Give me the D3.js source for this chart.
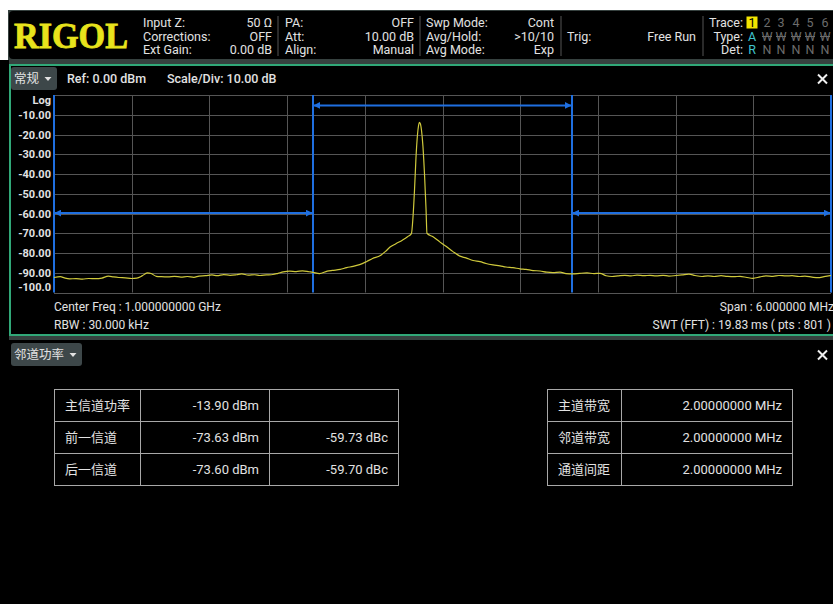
<!DOCTYPE html>
<html>
<head>
<meta charset="utf-8">
<script src="https://cdn.jsdelivr.net/npm/d3@7/dist/d3.min.js"></script>
<style>
    html, body { margin: 0; padding: 0; background: #fff; }
    svg { display: block; font-family: Roboto, 'Noto Sans CJK SC', sans-serif; }
</style>
</head>
<body>
<svg id="screen" width="833" height="604"></svg>
<script>
// trace: offset from center freq (MHz) and level (dBm)
var traceFreq = [
    -3.00, -2.95, -2.92, -2.88, -2.83, -2.78, -2.73, -2.68, -2.63, -2.58,
    -2.54, -2.50, -2.45, -2.40, -2.36, -2.32, -2.28, -2.25, -2.21, -2.17,
    -2.12, -2.07, -2.02, -1.97, -1.92, -1.88, -1.83, -1.78, -1.74, -1.69,
    -1.64, -1.59, -1.55, -1.50, -1.45, -1.41, -1.36, -1.31, -1.27, -1.23,
    -1.18, -1.13, -1.08, -1.03, -1.00, -0.95, -0.89, -0.85, -0.79, -0.74,
    -0.69, -0.64, -0.585, -0.54, -0.48, -0.44, -0.405, -0.36, -0.31, -0.27,
    -0.24, -0.228, -0.216, -0.205, -0.193, -0.185, -0.179, -0.171, -0.162, -0.151,
    -0.139, -0.127, -0.12, -0.073, -0.019, 0.027, 0.081, 0.135, 0.181, 0.236,
    0.29, 0.336, 0.39, 0.444, 0.49, 0.544, 0.598, 0.645, 0.699, 0.753,
    0.805, 0.853, 0.907, 0.954, 1.008, 1.06, 1.116, 1.17, 1.216, 1.263,
    1.309, 1.355, 1.409, 1.456, 1.502, 1.556, 1.602, 1.649, 1.703, 1.749,
    1.803, 1.849, 1.903, 1.95, 2.004, 2.05, 2.097, 2.151, 2.197, 2.251,
    2.297, 2.351, 2.398, 2.452, 2.498, 2.552, 2.598, 2.653, 2.699, 2.753,
    2.799, 2.853, 2.90, 2.946, 3.00
];
var traceLevel = [
    -92.4, -92.0, -92.6, -93.1, -93.0, -93.2, -92.9, -93.0, -92.7, -91.7,
    -92.1, -92.4, -92.6, -92.9, -92.7, -91.6, -90.1, -90.4, -91.8, -92.0,
    -92.1, -91.8, -92.2, -91.9, -92.3, -91.7, -91.5, -91.1, -91.5, -90.9,
    -91.3, -91.0, -90.6, -91.2, -91.0, -91.4, -91.1, -90.9, -90.3, -89.6,
    -89.2, -89.4, -89.0, -89.5, -89.8, -90.4, -89.2, -88.8, -88.3, -87.4,
    -86.8, -85.9, -84.3, -82.8, -81.3, -79.2, -77.0, -75.3, -73.5, -71.8,
    -70.2, -62.0, -48.0, -32.0, -20.0, -15.5, -13.9, -14.6, -18.0, -26.0,
    -40.0, -58.0, -70.0, -71.8, -74.5, -76.6, -79.3, -81.6, -82.5, -83.8,
    -84.4, -85.3, -86.0, -86.5, -87.1, -87.4, -88.0, -88.3, -88.9, -89.1,
    -89.7, -89.9, -89.7, -90.4, -90.6, -90.3, -90.1, -90.4, -90.3, -91.5,
    -91.9, -91.6, -91.3, -91.6, -91.2, -91.5, -91.3, -91.6, -91.3, -91.7,
    -91.4, -91.1, -90.7, -91.4, -91.9, -91.6, -91.9, -91.5, -91.8, -92.0,
    -91.8, -92.4, -92.8, -92.1, -91.6, -91.8, -91.4, -91.6, -91.5, -91.9,
    -91.7, -92.2, -92.5, -92.0, -91.4
];

// channel markers (MHz offsets, dB level of the bracket line)
var channelStart = [ -3, -1, 1 ];
var channelEnd = [ -1, 1, 3 ];
var channelLevel = [ -59.8, -5.3, -59.8 ];

var yTickValues = [ 0, -10, -20, -30, -40, -50, -60, -70, -80, -90, -100 ];
var yTickLabels = [ 'Log', '-10.00', '-20.00', '-30.00', '-40.00', '-50.00',
    '-60.00', '-70.00', '-80.00', '-90.00', '-100.0' ];
var xDivisions = [ -3, -2.4, -1.8, -1.2, -0.6, 0, 0.6, 1.2, 1.8, 2.4, 3 ];

// header info blocks
var infoLabelsA = [ 'Input Z:', 'Corrections:', 'Ext Gain:' ];
var infoValuesA = [ '50 Ω', 'OFF', '0.00 dB' ];
var infoLabelsB = [ 'PA:', 'Att:', 'Align:' ];
var infoValuesB = [ 'OFF', '10.00 dB', 'Manual' ];
var infoLabelsC = [ 'Swp Mode:', 'Avg/Hold:', 'Avg Mode:' ];
var infoValuesC = [ 'Cont', '>10/10', 'Exp' ];
var traceNumbers = [ '1', '2', '3', '4', '5', '6' ];
var traceTypes = [ 'A', 'W', 'W', 'W', 'W', 'W' ];
var traceDets = [ 'R', 'N', 'N', 'N', 'N', 'N' ];

// ACP result tables
var acpLabels = [ '主信道功率', '前一信道', '后一信道' ];
var acpPower = [ '-13.90 dBm', '-73.63 dBm', '-73.60 dBm' ];
var acpRelative = [ '', '-59.73 dBc', '-59.70 dBc' ];
var bwLabels = [ '主道带宽', '邻道带宽', '通道间距' ];
var bwValues = [ '2.00000000 MHz', '2.00000000 MHz', '2.00000000 MHz' ];

var svg = d3.select( '#screen' );
var textColor = '#e2e2e2';
var blue = '#1f6fe0';

drawFrame();
drawHeader();
drawPlot();
drawTables();

function drawFrame() {
    svg.append( 'rect' ).attr( 'x', 8 ).attr( 'y', 10 ).attr( 'width', 825 ).attr( 'height', 594 )
        .style( 'fill', '#36413f' );
    svg.append( 'rect' ).attr( 'x', 0 ).attr( 'y', 60 ).attr( 'width', 9 ).attr( 'height', 544 )
        .style( 'fill', '#000' );
    svg.append( 'rect' ).attr( 'x', 9 ).attr( 'y', 11 ).attr( 'width', 830 ).attr( 'height', 48 )
        .attr( 'rx', 4 ).style( 'fill', '#000' );
    // plot panel
    svg.append( 'rect' ).attr( 'x', 10 ).attr( 'y', 65 ).attr( 'width', 830 ).attr( 'height', 270 )
        .style( 'fill', '#000' ).style( 'stroke', '#31a878' ).style( 'stroke-width', 2 );
    // lower panel
    svg.append( 'rect' ).attr( 'x', 9 ).attr( 'y', 340 ).attr( 'width', 824 ).attr( 'height', 264 )
        .style( 'fill', '#000' );
}

function infoBlock( labels, values, xLabel, xValue ) {
    var g = svg.append( 'g' ).style( 'font-size', '12.5px' ).style( 'fill', textColor );
    g.selectAll( 'text.l' ).data( labels ).enter().append( 'text' )
        .attr( 'x', xLabel ).attr( 'y', function( d, i ) { return 27 + i * 13.5; } )
        .text( function( d ) { return d; } );
    g.selectAll( 'text.v' ).data( values ).enter().append( 'text' )
        .attr( 'x', xValue ).attr( 'y', function( d, i ) { return 27 + i * 13.5; } )
        .attr( 'text-anchor', 'end' )
        .text( function( d ) { return d; } );
}

function separator( x ) {
    svg.append( 'line' ).attr( 'x1', x ).attr( 'x2', x ).attr( 'y1', 16 ).attr( 'y2', 56 )
        .style( 'stroke', '#555' ).style( 'stroke-width', 1 );
}

function drawHeader() {
    svg.append( 'text' ).attr( 'x', 14 ).attr( 'y', 48 )
        .attr( 'textLength', 114 ).attr( 'lengthAdjust', 'spacingAndGlyphs' )
        .style( 'font-family', "'Liberation Serif', serif" ).style( 'font-weight', 'bold' )
        .style( 'font-size', '35px' ).style( 'fill', '#e8e31c' )
        .style( 'stroke', '#e8e31c' ).style( 'stroke-width', 0.8 )
        .text( 'RIGOL' );

    infoBlock( infoLabelsA, infoValuesA, 143, 272 );
    separator( 278 );
    infoBlock( infoLabelsB, infoValuesB, 285, 414 );
    separator( 420 );
    infoBlock( infoLabelsC, infoValuesC, 426, 554 );
    separator( 561 );
    infoBlock( [ '', 'Trig:', '' ], [ '', 'Free Run', '' ], 567, 696 );
    separator( 703 );
    infoBlock( [], [ 'Trace:', 'Type:', 'Det:' ], 0, 743 );

    var cols = [ 752, 767, 781, 796, 810, 825 ];
    svg.append( 'rect' ).attr( 'x', 746.5 ).attr( 'y', 16.5 ).attr( 'width', 11 ).attr( 'height', 12 )
        .style( 'fill', '#f2e400' );
    var rows = [ traceNumbers, traceTypes, traceDets ];
    rows.forEach( function( row, r ) {
        svg.selectAll( null ).data( row ).enter().append( 'text' )
            .attr( 'x', function( d, i ) { return cols[ i ]; } )
            .attr( 'y', 27 + r * 13.5 )
            .attr( 'text-anchor', 'middle' )
            .style( 'font-size', '12.5px' )
            .style( 'fill', function( d, i ) {
                if ( i > 0 ) return '#6c6c6c';
                return r === 0 ? '#000' : '#3fc4cf';
            })
            .text( function( d ) { return d; } );
    });
    // strike through the inactive W's
    svg.selectAll( null ).data( cols.slice( 1 ) ).enter().append( 'line' )
        .attr( 'x1', function( d ) { return d - 5; } ).attr( 'x2', function( d ) { return d + 5; } )
        .attr( 'y1', 36.5 ).attr( 'y2', 36.5 )
        .style( 'stroke', '#6c6c6c' ).style( 'stroke-width', 1 );
}

function panelButton( x, y, w, label ) {
    svg.append( 'rect' ).attr( 'x', x ).attr( 'y', y ).attr( 'width', w ).attr( 'height', 23 )
        .attr( 'rx', 3 ).style( 'fill', '#3d4749' );
    svg.append( 'text' ).attr( 'x', x + 3 ).attr( 'y', y + 16 )
        .style( 'font-size', '12.5px' ).style( 'fill', textColor ).text( label );
    var tx = x + w - 9;
    svg.append( 'path' )
        .attr( 'd', 'M' + ( tx - 3.5 ) + ',' + ( y + 10 ) + 'L' + ( tx + 3.5 ) + ',' + ( y + 10 ) + 'L' + tx + ',' + ( y + 14 ) + 'Z' )
        .style( 'fill', textColor );
}

function closeIcon( cy ) {
    // drawn as two strokes, the glyph is too small at this size
    svg.append( 'path' )
        .attr( 'd', 'M818,' + ( cy - 4.5 ) + 'L827,' + ( cy + 4.5 ) + 'M827,' + ( cy - 4.5 ) + 'L818,' + ( cy + 4.5 ) )
        .style( 'stroke', '#f0f0f0' ).style( 'stroke-width', 2 ).style( 'fill', 'none' );
}

function drawPlot() {
    panelButton( 11, 67, 46, '常规' );
    svg.append( 'text' ).attr( 'x', 67 ).attr( 'y', 83 )
        .style( 'font-size', '12.5px' ).style( 'font-weight', 500 ).style( 'fill', textColor )
        .text( 'Ref: 0.00 dBm' );
    svg.append( 'text' ).attr( 'x', 167 ).attr( 'y', 83 )
        .style( 'font-size', '12.5px' ).style( 'font-weight', 500 ).style( 'fill', textColor )
        .text( 'Scale/Div: 10.00 dB' );
    closeIcon( 79 );

    var x = d3.scaleLinear().domain( [ -3, 3 ] ).range( [ 54, 831 ] );
    var y = d3.scaleLinear().domain( [ -100, 0 ] ).range( [ 292.5, 95 ] );

    var grid = svg.append( 'g' ).style( 'stroke', '#555' ).style( 'stroke-width', 1 );
    grid.selectAll( 'line.h' ).data( yTickValues ).enter().append( 'line' )
        .attr( 'x1', x( -3 ) ).attr( 'x2', x( 3 ) )
        .attr( 'y1', function( d ) { return Math.round( y( d ) ) + 0.5; } )
        .attr( 'y2', function( d ) { return Math.round( y( d ) ) + 0.5; } );
    grid.selectAll( 'line.v' ).data( xDivisions ).enter().append( 'line' )
        .attr( 'y1', y( 0 ) ).attr( 'y2', y( -100 ) )
        .attr( 'x1', function( d ) { return Math.round( x( d ) ) + 0.5; } )
        .attr( 'x2', function( d ) { return Math.round( x( d ) ) + 0.5; } );

    svg.selectAll( 'text.ytick' ).data( yTickValues ).enter().append( 'text' )
        .attr( 'x', 51 )
        .attr( 'y', function( d ) { return Math.min( Math.max( y( d ), y( 0 ) + 4.5 ), y( -100 ) - 5.5 ) + 4; } )
        .attr( 'text-anchor', 'end' )
        .style( 'font-size', '11px' ).style( 'font-weight', 'bold' ).style( 'fill', textColor )
        .text( function( d, i ) { return yTickLabels[ i ]; } );

    // arrow heads for channel brackets
    var defs = svg.append( 'defs' );
    defs.append( 'marker' ).attr( 'id', 'arrow' )
        .attr( 'viewBox', '0 0 10 10' ).attr( 'refX', 9 ).attr( 'refY', 5 )
        .attr( 'markerWidth', 7 ).attr( 'markerHeight', 7 ).attr( 'markerUnits', 'userSpaceOnUse' )
        .attr( 'orient', 'auto-start-reverse' )
        .append( 'path' ).attr( 'd', 'M0,0L10,5L0,10Z' ).style( 'fill', blue );

    var edges = channelStart.concat( [ channelEnd[ channelEnd.length - 1 ] ] );
    svg.selectAll( 'line.edge' ).data( edges ).enter().append( 'line' )
        .attr( 'x1', function( d ) { return x( d ); } ).attr( 'x2', function( d ) { return x( d ); } )
        .attr( 'y1', y( 0 ) ).attr( 'y2', y( -100 ) )
        .style( 'stroke', blue ).style( 'stroke-width', 2 );

    svg.selectAll( 'line.bracket' ).data( channelLevel ).enter().append( 'line' )
        .attr( 'x1', function( d, i ) { return x( channelStart[ i ] ) + 1; } )
        .attr( 'x2', function( d, i ) { return x( channelEnd[ i ] ) - 1; } )
        .attr( 'y1', function( d ) { return y( d ); } ).attr( 'y2', function( d ) { return y( d ); } )
        .attr( 'marker-start', 'url(#arrow)' ).attr( 'marker-end', 'url(#arrow)' )
        .style( 'stroke', blue ).style( 'stroke-width', 2 );

    var line = d3.line()
        .x( function( d ) { return x( d ); } )
        .y( function( d, i ) { return y( traceLevel[ i ] ); } )
        .curve( d3.curveMonotoneX );
    svg.append( 'path' ).datum( traceFreq )
        .attr( 'd', line )
        .style( 'fill', 'none' ).style( 'stroke', '#cfc93c' ).style( 'stroke-width', 1.2 );

    var foot = svg.append( 'g' ).style( 'font-size', '12px' ).style( 'fill', textColor );
    foot.append( 'text' ).attr( 'x', 54 ).attr( 'y', 311 ).text( 'Center Freq : 1.000000000 GHz' );
    foot.append( 'text' ).attr( 'x', 54 ).attr( 'y', 329 ).text( 'RBW : 30.000 kHz' );
    foot.append( 'text' ).attr( 'x', 834 ).attr( 'y', 311 ).attr( 'text-anchor', 'end' )
        .text( 'Span : 6.000000 MHz' );
    foot.append( 'text' ).attr( 'x', 831 ).attr( 'y', 329 ).attr( 'text-anchor', 'end' )
        .text( 'SWT (FFT) : 19.83 ms ( pts : 801 )' );
}

function drawTable( x0, colEdges, cells, anchors ) {
    var rowY = [ 389, 421, 453, 485 ];
    var g = svg.append( 'g' );
    g.append( 'rect' ).attr( 'x', x0 + 0.5 ).attr( 'y', rowY[ 0 ] + 0.5 )
        .attr( 'width', colEdges[ colEdges.length - 1 ] - x0 ).attr( 'height', rowY[ 3 ] - rowY[ 0 ] )
        .style( 'fill', 'none' ).style( 'stroke', '#a8a8a8' );
    g.selectAll( 'line.r' ).data( rowY.slice( 1, 3 ) ).enter().append( 'line' )
        .attr( 'x1', x0 ).attr( 'x2', colEdges[ colEdges.length - 1 ] )
        .attr( 'y1', function( d ) { return d + 0.5; } ).attr( 'y2', function( d ) { return d + 0.5; } )
        .style( 'stroke', '#a8a8a8' );
    g.selectAll( 'line.c' ).data( colEdges.slice( 0, -1 ) ).enter().append( 'line' )
        .attr( 'y1', rowY[ 0 ] ).attr( 'y2', rowY[ 3 ] )
        .attr( 'x1', function( d ) { return d + 0.5; } ).attr( 'x2', function( d ) { return d + 0.5; } )
        .style( 'stroke', '#a8a8a8' );
    cells.forEach( function( col, c ) {
        g.selectAll( null ).data( col ).enter().append( 'text' )
            .attr( 'x', anchors[ c ] === 'start' ? x0 + 11 : colEdges[ c ] - 10 )
            .attr( 'y', function( d, i ) { return rowY[ i ] + 21; } )
            .attr( 'text-anchor', anchors[ c ] )
            .style( 'font-size', '13px' ).style( 'fill', textColor )
            .text( function( d ) { return d; } );
    });
}

function drawTables() {
    panelButton( 11, 343, 71, '邻道功率' );
    closeIcon( 355 );
    drawTable( 54, [ 140, 269, 398 ], [ acpLabels, acpPower, acpRelative ], [ 'start', 'end', 'end' ] );
    drawTable( 547, [ 621, 792 ], [ bwLabels, bwValues ], [ 'start', 'end' ] );
}
</script>
</body>
</html>
